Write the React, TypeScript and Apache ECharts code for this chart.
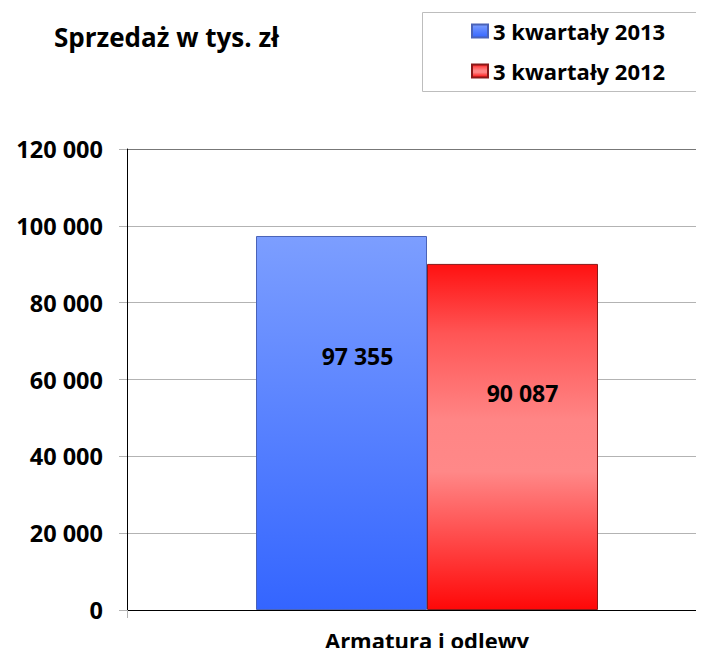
import React, { useEffect, useRef } from "react";
import * as echarts from "echarts";

const categories = ["Armatura i odlewy"];
const seriesNames = ["3 kwartały 2013", "3 kwartały 2012"];
const values2013 = [97355];
const values2012 = [90087];
const yTicks = [0, 20000, 40000, 60000, 80000, 100000, 120000];

const FONT = "'Open Sans', 'Noto Sans', sans-serif";

function fmt(v: number): string {
  return String(Math.round(v)).replace(/\B(?=(\d{3})+(?!\d))/g, " ");
}

export default function App() {
  const ref = useRef<HTMLDivElement>(null);
  useEffect(() => {
    if (!ref.current) return;
    const chart = echarts.init(ref.current, null, { renderer: "svg" });
    const blue = new echarts.graphic.LinearGradient(0, 0, 0, 1, [
      { offset: 0, color: "#7c9eff" },
      { offset: 1, color: "#3465ff" },
    ]);
    const red = new echarts.graphic.LinearGradient(0, 0, 0, 1, [
      { offset: 0, color: "#ff1111" },
      { offset: 0.2, color: "#ff5555" },
      { offset: 0.45, color: "#ff8585" },
      { offset: 0.6, color: "#ff8888" },
      { offset: 0.8, color: "#ff4848" },
      { offset: 1, color: "#ff0808" },
    ]);
    chart.setOption({
      animation: false,
      backgroundColor: "#ffffff",
      textStyle: { fontFamily: FONT },
      grid: {
        left: 127,
        width: 600,
        top: 149,
        height: 461,
        containLabel: false,
        outerBoundsMode: "none",
      },
      graphic: [
        {
          type: "text",
          x: 54,
          y: 37,
          style: {
            text: "Sprzedaż w tys. zł",
            font: `bold 26px ${FONT}`,
            fill: "#000",
            verticalAlign: "middle",
            textVerticalAlign: "middle",
          },
        },
        {
          type: "rect",
          shape: { x: 422.5, y: 12.5, width: 281, height: 79 },
          style: { fill: "none", stroke: "#bdbdbd", lineWidth: 1 },
          z: 0,
        },
      ],
      legend: {
        orient: "vertical",
        left: 471,
        top: 20,
        itemWidth: 16,
        itemHeight: 13,
        itemGap: 18,
        padding: 0,
        icon: "rect",
        textStyle: {
          fontFamily: FONT,
          fontWeight: "bold",
          fontSize: 22,
          color: "#000",
          lineHeight: 22,
        },
        data: seriesNames,
      },
      xAxis: {
        type: "category",
        data: categories,
        axisLine: { lineStyle: { color: "#000", width: 1 } },
        axisTick: { show: true, length: 8, lineStyle: { color: "#b3b3b3" } },
        axisLabel: {
          color: "#000",
          fontWeight: "bold",
          fontSize: 22,
          fontFamily: FONT,
          margin: 19,
        },
      },
      yAxis: {
        type: "value",
        min: 0,
        max: 120000,
        interval: 20000,
        axisLine: { show: true, lineStyle: { color: "#000", width: 1 } },
        axisTick: { show: true, length: 8, lineStyle: { color: "#b3b3b3" } },
        splitLine: {
          show: true,
          lineStyle: {
            color: ["#b3b3b3", "#b3b3b3", "#b3b3b3", "#b3b3b3", "#b3b3b3", "#b3b3b3", "#777777"],
            width: 1,
          },
        },
        axisLabel: {
          color: "#000",
          fontWeight: "bold",
          fontSize: 23.5,
          fontFamily: FONT,
          margin: 24,
          formatter: (v: number) => (yTicks.includes(v) ? fmt(v) : ""),
        },
      },
      series: [
        {
          name: seriesNames[0],
          type: "bar",
          data: values2013,
          barWidth: 171,
          barGap: "0%",
          itemStyle: { color: blue, borderColor: "#4a63b8", borderWidth: 1 },
          label: {
            show: true,
            position: "inside",
            offset: [16, -67],
            formatter: (p: any) => fmt(p.value),
            color: "#000",
            fontWeight: "bold",
            fontSize: 23,
            fontFamily: FONT,
          },
        },
        {
          name: seriesNames[1],
          type: "bar",
          data: values2012,
          barWidth: 171,
          barGap: "0%",
          itemStyle: { color: red, borderColor: "#8a1a1a", borderWidth: 1 },
          label: {
            show: true,
            position: "inside",
            offset: [10, -44],
            formatter: (p: any) => fmt(p.value),
            color: "#000",
            fontWeight: "bold",
            fontSize: 23,
            fontFamily: FONT,
          },
        },
      ],
    });
    return () => chart.dispose();
  }, []);
  return <div ref={ref} style={{ width: 704, height: 656, margin: -8 }} />;
}
